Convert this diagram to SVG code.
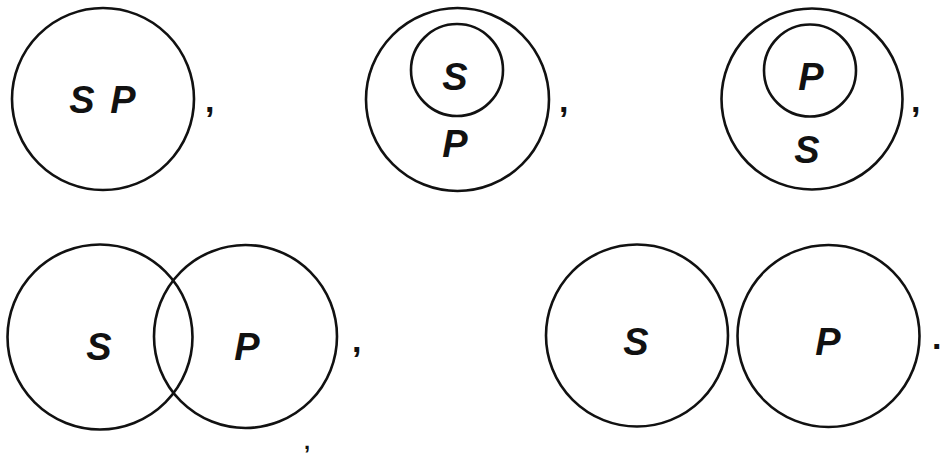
<svg xmlns="http://www.w3.org/2000/svg" width="941" height="457" viewBox="0 0 941 457">
<style>
.c{fill:none;stroke:#111;stroke-width:2.6}
.t{font-family:"Liberation Sans",Arial,sans-serif;font-weight:bold;font-style:italic;font-size:38px;fill:#111;text-anchor:middle}
.p{font-family:"Liberation Sans",Arial,sans-serif;font-weight:bold;font-size:34px;fill:#111}
</style>
<rect width="941" height="457" fill="#fff"/>
<g id="fig1">
<circle class="c" cx="103" cy="99" r="91"/>
<text class="t" x="82" y="113">S</text>
<text class="t" x="123" y="113">P</text>
<text class="p" x="205" y="112">,</text>
</g>
<g id="fig2">
<circle class="c" cx="457.5" cy="99.5" r="91.5"/>
<circle class="c" cx="457" cy="70" r="46"/>
<text class="t" x="455" y="90">S</text>
<text class="t" x="455" y="157">P</text>
<text class="p" x="559" y="112">,</text>
</g>
<g id="fig3">
<circle class="c" cx="812" cy="99" r="90.5"/>
<circle class="c" cx="810" cy="70.5" r="46"/>
<text class="t" x="811" y="90">P</text>
<text class="t" x="807" y="163">S</text>
<text class="p" x="911" y="112">,</text>
</g>
<g id="fig4">
<circle class="c" cx="100" cy="337" r="92.5"/>
<circle class="c" cx="245.5" cy="336.5" r="91.5"/>
<text class="t" x="99" y="360">S</text>
<text class="t" x="247" y="360">P</text>
<text class="p" x="352" y="352">,</text>
<text class="p" x="304" y="449" style="font-size:22px">,</text>
</g>
<g id="fig5">
<circle class="c" cx="637" cy="335.5" r="91"/>
<circle class="c" cx="828.5" cy="336" r="91"/>
<text class="t" x="636" y="355">S</text>
<text class="t" x="828" y="355">P</text>
<text class="p" x="932" y="349">.</text>
</g>
<g id="connectors"/>
</svg>
